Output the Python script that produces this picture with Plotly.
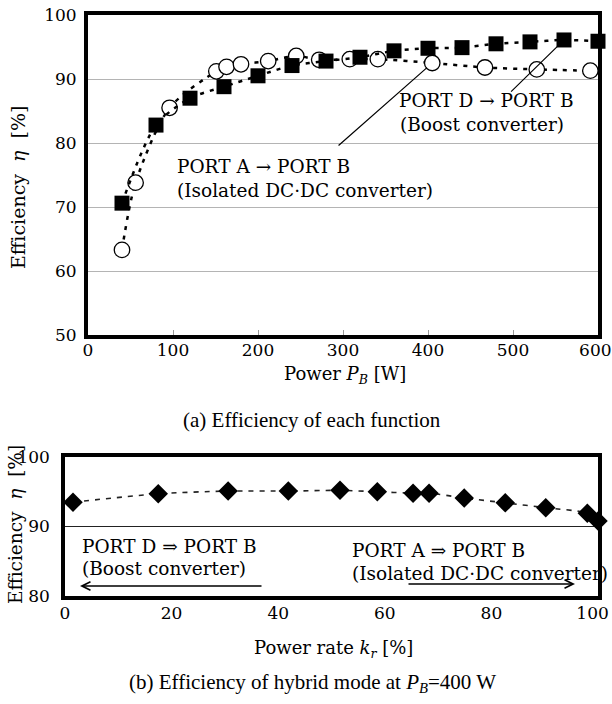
import plotly.graph_objects as go

# ---- data (a): efficiency of each function ----
boost_p = [40, 80, 120, 160, 200, 240, 280, 320, 360, 400, 440, 480, 520, 560, 600]
boost_eff = [70.6, 82.8, 87.0, 88.8, 90.5, 92.1, 92.8, 93.4, 94.4, 94.8, 94.9, 95.5, 95.8, 96.1, 95.9]

iso_p = [40, 56, 96, 151, 163, 180, 212, 245, 272, 308, 341, 405, 467, 528, 591]
iso_eff = [63.3, 73.8, 85.5, 91.2, 91.9, 92.3, 92.8, 93.6, 93.0, 93.1, 93.1, 92.5, 91.8, 91.5, 91.3]

# ---- data (b): efficiency of hybrid mode ----
kr = [1.5, 17.5, 30.6, 41.9, 51.6, 58.6, 65.3, 68.3, 74.9, 82.6, 90.2, 98.0, 100.0]
hyb_eff = [93.5, 94.7, 95.1, 95.1, 95.2, 95.0, 94.8, 94.8, 94.1, 93.4, 92.7, 91.9, 90.8]

xticks_a = [0, 100, 200, 300, 400, 500, 600]
yticks_a = [50, 60, 70, 80, 90, 100]
xticks_b = [0, 20, 40, 60, 80, 100]
yticks_b = [80, 90, 100]

W, H = 612, 704
SERIF = "DejaVu Serif"
TIMES = "Liberation Serif"
NB = "\u00a0"


def px(x):
    return x / W


def py(y):
    return 1 - y / H


def edge_labels(vals, pad):
    # last label padded with an invisible glyph so it is nudged inside the page
    out = [str(v) for v in vals]
    out[-1] = out[-1] + "<span style='color:rgba(0,0,0,0)'>" + pad + "</span>"
    return out


fig = go.Figure()

fig.add_trace(go.Scatter(
    x=iso_p, y=iso_eff, mode="lines+markers", xaxis="x", yaxis="y",
    line=dict(color="black", width=2.5, dash="4px,6px", shape="spline", smoothing=0.8),
    marker=dict(symbol="circle", size=15.5, color="white", line=dict(color="black", width=1.3)),
    cliponaxis=False,
))
fig.add_trace(go.Scatter(
    x=boost_p, y=boost_eff, mode="lines+markers", xaxis="x", yaxis="y",
    line=dict(color="black", width=2.5, dash="4px,6px", shape="spline", smoothing=0.8),
    marker=dict(symbol="square", size=15, color="black", line=dict(color="black", width=0)),
    cliponaxis=False,
))
fig.add_trace(go.Scatter(
    x=kr, y=hyb_eff, mode="lines+markers", xaxis="x2", yaxis="y2",
    line=dict(color="#222", width=1.6, dash="5px,6px", shape="spline", smoothing=0.8),
    marker=dict(symbol="diamond", size=15, color="black", line=dict(color="black", width=0)),
    cliponaxis=False,
))

tickfont = dict(family=SERIF, size=17, color="black")

fig.update_layout(
    width=W, height=H, autosize=False,
    margin=dict(l=0, r=0, t=0, b=0, autoexpand=False),
    paper_bgcolor="white", plot_bgcolor="white",
    showlegend=False,
    font=dict(family=SERIF, color="black"),
    xaxis=dict(
        domain=[px(88), px(598)], range=[0, 600], anchor="y", automargin=False,
        tickvals=xticks_a, ticktext=edge_labels(xticks_a, "."),
        ticks="inside", ticklen=5, tickcolor="#999", tickwidth=1,
        showline=True, linewidth=4, linecolor="black", mirror=True,
        showgrid=False, zeroline=False, tickfont=tickfont,
        ticklabeloverflow="allow", ticklabelstandoff=-3,
    ),
    yaxis=dict(
        domain=[py(335), py(15)], range=[50, 100], anchor="x", automargin=False,
        tickvals=yticks_a, ticks="", ticklabelstandoff=4,
        showline=True, linewidth=4, linecolor="black", mirror=True,
        showgrid=True, gridcolor="#b4b4b4", gridwidth=1, zeroline=False,
        tickfont=tickfont, ticklabeloverflow="allow",
    ),
    xaxis2=dict(
        domain=[px(65), px(598)], range=[0, 100], anchor="y2", automargin=False,
        tickvals=xticks_b, ticktext=edge_labels(xticks_b, "0"), ticks="", ticklabelstandoff=-1,
        showline=True, linewidth=3.5, linecolor="black", mirror=True,
        showgrid=False, zeroline=False, tickfont=tickfont,
        ticklabeloverflow="allow",
    ),
    yaxis2=dict(
        domain=[py(596), py(457)], range=[80, 100], anchor="x2", automargin=False,
        tickvals=yticks_b, ticks="", ticklabelstandoff=8,
        showline=True, linewidth=3.5, linecolor="black", mirror=True,
        showgrid=True, gridcolor="#222", gridwidth=1, zeroline=False,
        tickfont=tickfont, ticklabeloverflow="allow",
    ),
)

ann = []


def text(t, x, y, size=18.5, xanchor="left", angle=0, family=SERIF):
    ann.append(dict(text=t, x=px(x), y=py(y), xref="paper", yref="paper",
                    xanchor=xanchor, yanchor="middle", showarrow=False,
                    textangle=angle, font=dict(family=family, size=size, color="black")))


ytitle = "Efficiency" + NB * 2 + "<i>η</i>" + NB * 2 + "[%]"

# axis titles
text(ytitle, 18, 188, size=19, xanchor="center", angle=-90)
text("Power <i>P</i><sub><i>B</i></sub> [W]", 345, 375, size=18, xanchor="center")
text("(a) Efficiency of each function", 312, 420, size=21, xanchor="center", family=TIMES)

text(ytitle, 15, 525, size=18.5, xanchor="center", angle=-90)
text("Power rate <i>k</i><sub><i>r</i></sub> [%]", 334, 649, size=18, xanchor="center")
text("(b) Efficiency of hybrid mode at <i>P</i><sub><i>B</i></sub>=400 W", 312, 683, size=21,
     xanchor="center", family=TIMES)

# in-plot labels (a)
text("PORT A → PORT B", 175, 167)
text("(Isolated DC·DC converter)", 175, 190)
text("PORT D → PORT B", 397, 100)
text("(Boost converter)", 398, 125)

# in-plot labels (b)
text("PORT D ⇒ PORT B", 80, 546)
text("(Boost converter)", 80, 568)
text("PORT A ⇒ PORT B", 350, 550)
text("(Isolated DC·DC converter)", 350, 573)

# leader lines in (a)
ann.append(dict(x=iso_p[11], y=iso_eff[11], xref="x", yref="y",
                ax=293, ay=79.4, axref="x", ayref="y", text="",
                showarrow=True, arrowhead=0, arrowwidth=1.2, arrowcolor="black", standoff=7))
ann.append(dict(x=boost_p[13], y=boost_eff[13], xref="x", yref="y",
                ax=496, ay=87.8, axref="x", ayref="y", text="",
                showarrow=True, arrowhead=0, arrowwidth=1.2, arrowcolor="black", standoff=7))

# direction arrows in (b)
ann.append(dict(x=px(80), y=py(586), xref="paper", yref="paper", ax=183, ay=0,
                text="", showarrow=True, arrowhead=5, arrowsize=1.3, arrowwidth=1.3,
                arrowcolor="black"))
ann.append(dict(x=px(575), y=py(584), xref="paper", yref="paper", ax=-168, ay=0,
                text="", showarrow=True, arrowhead=5, arrowsize=1.3, arrowwidth=1.3,
                arrowcolor="black"))

fig.update_layout(annotations=ann)

fig.write_html("out.html")
